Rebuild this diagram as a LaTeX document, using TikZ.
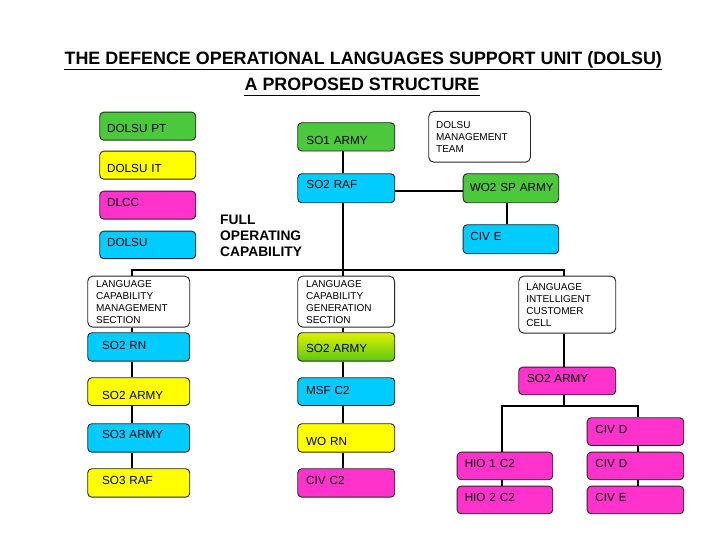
\documentclass[tikz,border=0pt]{standalone}
\usepackage{fontspec}
\setmainfont{Liberation Sans}
\definecolor{cgreen}{RGB}{76,200,60}
\definecolor{ccyan}{RGB}{0,204,255}
\definecolor{cyellow}{RGB}{255,255,0}
\definecolor{cmag}{RGB}{255,51,204}
\definecolor{gtop}{RGB}{222,240,0}
\definecolor{gbot}{RGB}{90,200,20}
\begin{document}
\begin{tikzpicture}[x=1pt,y=-1pt,
  box/.style={draw=black!85, line width=0.9pt, rounded corners=4pt, anchor=north west,
    align=left, inner ysep=0pt, font=\fontsize{11.7}{14}\selectfont},
  tb/.style 2 args={text height=#1pt, text depth=#2pt},
  multi/.style={draw=black!85, line width=0.9pt, rounded corners=5pt, anchor=north west,
    align=left, inner ysep=0pt, fill=white, font=\fontsize{10}{12}\selectfont},
  wire/.style={line width=2pt, black},
  ttl/.style={inner sep=0pt, anchor=base, font=\fontsize{17.9}{20}\selectfont\bfseries},
  uline/.style={line width=1.4pt, black}
]
\useasboundingbox (0,0) rectangle (720,540);

% titles
\node[ttl] (t1) at (363.3,65) {THE DEFENCE OPERATIONAL LANGUAGES SUPPORT UNIT (DOLSU)};
\node[ttl] (t2) at (362,91) {A PROPOSED STRUCTURE};
\draw[uline] ([yshift=-4.3pt]t1.base west) -- ([yshift=-4.3pt]t1.base east);
\draw[uline] ([yshift=-4.3pt]t2.base west) -- ([yshift=-4.3pt]t2.base east);

% legend
\node[box, fill=cgreen,  inner xsep=7.4pt, text width=81.2pt, tb={20.7}{7.3}] (pt)   at (99.3,111.7) {DOLSU PT};
\node[box, fill=cyellow, inner xsep=7.4pt, text width=81.2pt, tb={21}{7}]     (it)   at (99.3,150.7) {DOLSU IT};
\node[box, fill=cmag,    inner xsep=7.4pt, text width=81.2pt, tb={15.3}{12.7}] (dlcc) at (99.3,190.7) {DLCC};
\node[box, fill=ccyan,   inner xsep=7.4pt, text width=81.2pt, tb={15}{12.5}]   (dolsu) at (99.3,230.7) {DOLSU};

\node[anchor=north west, align=left, inner sep=0pt, font=\fontsize{13.8}{16.2}\selectfont\bfseries] (foc) at (220,214.4) {FULL\\OPERATING\\CAPABILITY};

% top middle
\node[box, fill=cgreen, inner xsep=8.7pt, text width=79.6pt, tb={21.7}{6.6}] (so1) at (297.3,122.3) {SO1 ARMY};
\node[box, fill=ccyan,  inner xsep=8.7pt, text width=79.6pt, tb={15.1}{13.9}] (so2raf) at (297.3,173.3) {SO2 RAF};
\node[multi, inner xsep=7.4pt, text width=86.9pt, minimum height=50.7pt] (mgmt) at (428.3,111) {DOLSU\\MANAGEMENT\\TEAM};
\node[box, fill=cgreen, inner xsep=6.6pt, text width=82.4pt, tb={18.1}{10.9}] (wo2) at (462.7,173.3) {\rlap{WO2 SP ARMY}};
\node[box, fill=ccyan,  inner xsep=7.3pt, text width=81pt, tb={15.4}{13.6}] (cive) at (462.7,224.3) {CIV E};

% left column
\node[multi, inner xsep=8.4pt, text width=85.2pt, minimum height=51pt] (lcms) at (87.3,275.7) {LANGUAGE\\CAPABILITY\\MANAGEMENT\\SECTION};
\node[box, fill=ccyan,   inner xsep=14.4pt, text width=73.2pt, tb={16.4}{12}]  (so2rn) at (87.3,332.3) {SO2 RN};
\node[box, fill=cyellow, inner xsep=14.4pt, text width=73.2pt, tb={21.9}{5.8}] (so2ay) at (87.3,377.3) {SO2 ARMY};
\node[box, fill=ccyan,   inner xsep=14.4pt, text width=73.2pt, tb={14.4}{14}]  (so3a) at (87.3,423.3) {SO3 ARMY};
\node[box, fill=cyellow, inner xsep=14.4pt, text width=73.2pt, tb={15.4}{13}]  (so3r) at (87.3,468.3) {SO3 RAF};

% middle column
\node[multi, inner xsep=8.4pt, text width=80pt, minimum height=51pt] (lcgs) at (297.3,275.7) {LANGUAGE\\CAPABILITY\\GENERATION\\SECTION};
\node[box, top color=gtop, bottom color=gbot, inner xsep=8.4pt, text width=80.2pt, tb={20.2}{8.2}] (so2ag) at (297.3,332.3) {SO2 ARMY};
\node[box, fill=ccyan,   inner xsep=8.4pt, text width=80.2pt, tb={16.9}{10.8}] (msf) at (297.3,377.3) {MSF C2};
\node[box, fill=cyellow, inner xsep=8.4pt, text width=80.2pt, tb={21.7}{6.7}]  (worn) at (297.3,423.3) {WO RN};
\node[box, fill=cmag,    inner xsep=8.4pt, text width=80.2pt, tb={15.6}{12.8}] (civc2) at (297.3,468.3) {CIV C2};

% right column
\node[multi, inner xsep=7.7pt, text width=81.6pt, minimum height=57pt] (licc) at (518.3,275.7) {LANGUAGE\\INTELLIGENT\\CUSTOMER\\CELL};
\node[box, fill=cmag, inner xsep=8.4pt, text width=80.2pt, tb={15.3}{12.3}] (so2am) at (518.3,366.7) {SO2 ARMY};
\node[box, fill=cmag, inner xsep=8.3pt, text width=80pt, tb={15.7}{12}]   (civd1) at (586.7,417.3) {CIV D};
\node[box, fill=cmag, inner xsep=7.6pt, text width=80.4pt, tb={15.3}{12.3}] (hio1) at (456.7,451.7) {HIO 1 C2};
\node[box, fill=cmag, inner xsep=8.3pt, text width=80pt, tb={15.3}{12.3}]   (civd2) at (586.7,451.7) {CIV D};
\node[box, fill=cmag, inner xsep=7.6pt, text width=80.4pt, tb={15.7}{11.9}] (hio2) at (456.7,485.7) {HIO 2 C2};
\node[box, fill=cmag, inner xsep=8.3pt, text width=80pt, tb={15.7}{11.9}]   (cive2) at (586.7,485.7) {CIV E};

% guide coordinates
\coordinate (xm) at (343.3,0);
\coordinate (xl) at (132.3,0);
\coordinate (xr) at (564,0);
\coordinate (xw) at (506.7,0);
\coordinate (xh) at (501.7,0);
\coordinate (xc) at (637.7,0);
\coordinate (yb) at (0,270.3);
\coordinate (yb2) at (0,405.7);
\coordinate (yr) at (0,191);

% connectors
\draw[wire] (so1.south -| xm) -- (so2raf.north -| xm);
\draw[wire] (so2raf.south -| xm) -- (lcgs.north -| xm);
\draw[wire] (so2raf.east |- yr) -- (wo2.west |- yr);
\draw[wire] (wo2.south -| xw) -- (cive.north -| xw);
\draw[wire] (lcms.north -| xl) -- (xl |- yb) -- (xr |- yb) -- (licc.north -| xr);

\draw[wire] (lcms.south -| xl) -- (so2rn.north -| xl);
\draw[wire] (so2rn.south -| xl) -- (so2ay.north -| xl);
\draw[wire] (so2ay.south -| xl) -- (so3a.north -| xl);
\draw[wire] (so3a.south -| xl) -- (so3r.north -| xl);

\draw[wire] (lcgs.south -| xm) -- (so2ag.north -| xm);
\draw[wire] (so2ag.south -| xm) -- (msf.north -| xm);
\draw[wire] (msf.south -| xm) -- (worn.north -| xm);
\draw[wire] (worn.south -| xm) -- (civc2.north -| xm);

\draw[wire] (licc.south -| xr) -- (so2am.north -| xr);
\draw[wire] (so2am.south -| xr) -- (xr |- yb2);
\draw[wire] (hio1.north -| xh) -- (xh |- yb2) -- (xc |- yb2) -- (civd1.north -| xc);
\draw[wire] (hio1.south -| xh) -- (hio2.north -| xh);
\draw[wire] (civd1.south -| xc) -- (civd2.north -| xc);
\draw[wire] (civd2.south -| xc) -- (cive2.north -| xc);
\end{tikzpicture}
\end{document}
